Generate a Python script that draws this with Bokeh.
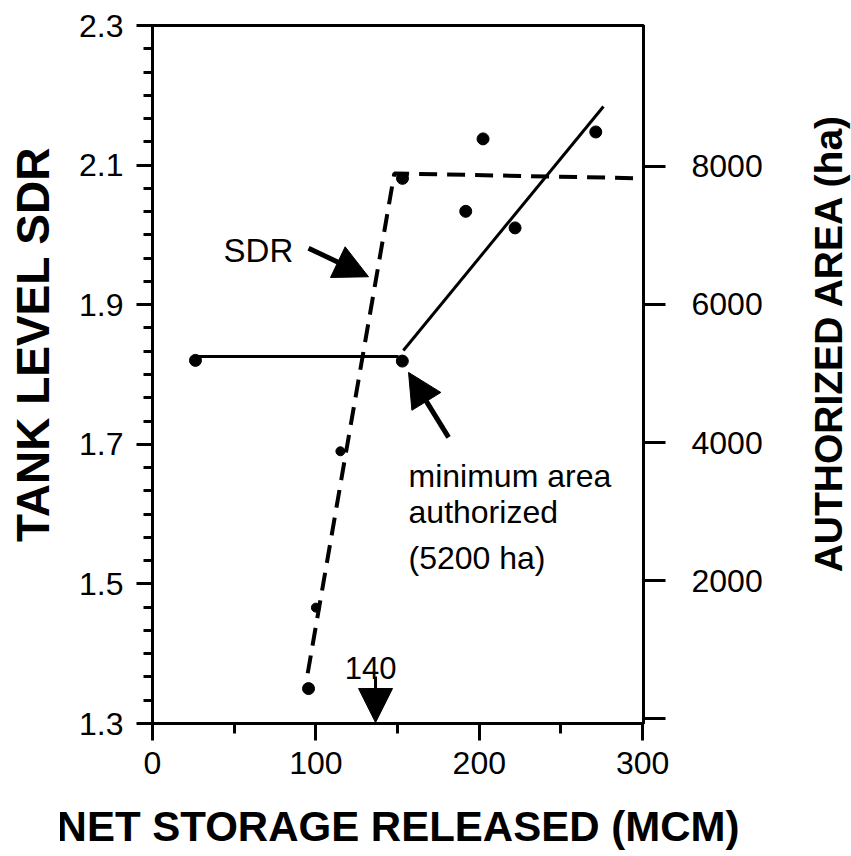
from bokeh.plotting import figure
from bokeh.layouts import row
from bokeh.models import (Range1d, LinearAxis, FixedTicker, PrintfTickFormatter,
                          Label, Arrow, NormalHead)
from bokeh.core.properties import value
from bokeh.embed import file_html
from bokeh.resources import INLINE
import math

# ---- data ----
sdr_pts_x = [95.5, 100, 115, 153]
sdr_pts_y = [1.35, 1.466, 1.69, 2.081]
sdr_line_x = [95, 148, 300.5]
sdr_line_y = [1.372, 2.088, 2.081]

area_pts_x = [26.3, 152.9, 191.7, 202.3, 221.9, 271.3]
area_pts_y = [5190, 5180, 7350, 8400, 7110, 8500]
area_flat_x = [26.3, 150.6]
area_flat_y = [5246, 5246]
area_slope_x = [153.5, 276]
area_slope_y = [5333, 8870]

sdr_ticks = [1.3, 1.5, 1.7, 1.9, 2.1, 2.3]
area_ticks = [0, 2000, 4000, 6000, 8000]
x_ticks = [0, 100, 200, 300]

FONT = "Liberation Sans"


def side_panel(width, title, x, y, size):
    f = figure(width=width, height=856, x_range=Range1d(0, width), y_range=Range1d(0, 856),
               output_backend="svg", toolbar_location=None, min_border=0,
               x_axis_location=None, y_axis_location=None)
    f.grid.visible = False
    f.outline_line_color = None
    f.background_fill_color = "white"
    f.border_fill_color = "white"
    f.text(x=[x], y=[y], text=[title], angle=math.pi / 2,
           text_font=value(FONT), text_font_size=size, text_font_style="bold",
           text_align="center", text_baseline="alphabetic", text_color="black")
    return f


p = figure(width=740, height=856, x_range=Range1d(0, 300.5), y_range=Range1d(1.3, 2.3),
           output_backend="svg", toolbar_location=None,
           min_border_left=92, min_border_right=157, min_border_top=25, min_border_bottom=133)
p.extra_y_ranges = {"area": Range1d(-72, 10043)}
p.grid.visible = False
p.outline_line_color = "black"
p.outline_line_width = 3
p.background_fill_color = "white"
p.border_fill_color = "white"

xa = p.xaxis[0]
xa.ticker = FixedTicker(ticks=x_ticks, minor_ticks=[50, 150, 250])
xa.axis_line_width = 3
xa.major_tick_line_width = 3
xa.minor_tick_line_width = 3
xa.major_tick_out = 17
xa.major_tick_in = 0
xa.minor_tick_out = 10
xa.minor_tick_in = 0
xa.major_label_standoff = 11
xa.major_label_text_font = FONT
xa.major_label_text_font_size = "32px"
xa.major_label_text_color = "black"
xa.axis_label = "NET STORAGE RELEASED (MCM)"
xa.axis_label_text_font = FONT
xa.axis_label_text_font_size = "42px"
xa.axis_label_text_font_style = "bold"
xa.axis_label_text_color = "black"
xa.axis_label_standoff = 26

ya = p.yaxis[0]
ya.ticker = FixedTicker(ticks=sdr_ticks,
                        minor_ticks=[round(1.3 + i / 30, 4) for i in range(31)])
ya.formatter = PrintfTickFormatter(format="%.1f")
ya.axis_line_width = 3
ya.major_tick_line_width = 3
ya.minor_tick_line_width = 3
ya.major_tick_out = 16
ya.major_tick_in = 0
ya.minor_tick_out = 9
ya.minor_tick_in = 0
ya.major_label_standoff = 13
ya.major_label_text_font = FONT
ya.major_label_text_font_size = "32px"
ya.major_label_text_color = "black"

ra = LinearAxis(y_range_name="area", ticker=FixedTicker(ticks=area_ticks, minor_ticks=[]),
                major_label_overrides={0: ""})
ra.axis_line_width = 3
ra.major_tick_line_width = 3
ra.major_tick_out = 22
ra.major_tick_in = 0
ra.minor_tick_line_color = None
ra.major_label_standoff = 26
ra.major_label_text_font = FONT
ra.major_label_text_font_size = "32px"
ra.major_label_text_color = "black"
p.add_layout(ra, "right")

# ---- lines ----
p.line(sdr_line_x, sdr_line_y, line_color="black", line_width=4, line_dash="18 10")
p.line(area_flat_x, area_flat_y, y_range_name="area", line_color="black", line_width=3)
p.line(area_slope_x, area_slope_y, y_range_name="area", line_color="black", line_width=3)

# ---- points ----
p.scatter(sdr_pts_x, sdr_pts_y, size=[12, 9, 9, 12], color="black")
p.scatter(area_pts_x, area_pts_y, y_range_name="area", size=12, color="black")

# ---- annotations ----
p.add_layout(Label(x=43.5, y=1.978, text="SDR", text_font=FONT, text_font_size="33px",
                   text_align="left", text_baseline="middle", text_color="black"))
p.add_layout(Arrow(x_start=95.5, y_start=1.981, x_end=132.2, y_end=1.940, line_width=5,
                   end=NormalHead(size=34, fill_color="black", line_color="black")))

p.add_layout(Arrow(x_start=181.2, y_start=1.710, x_end=156.7, y_end=1.803, line_width=5,
                   end=NormalHead(size=34, fill_color="black", line_color="black")))
for txt, yb in [("minimum area", 1.6553), ("authorized", 1.6023), ("(5200 ha)", 1.5378)]:
    p.add_layout(Label(x=156.7, y=yb, text=txt, text_font=FONT, text_font_size="32px",
                       text_align="left", text_baseline="alphabetic", text_color="black"))

p.add_layout(Label(x=133.5, y=1.3802, text="140", text_font=FONT, text_font_size="31px",
                   text_align="center", text_baseline="alphabetic", text_color="black"))
p.add_layout(Arrow(x_start=136.5, y_start=1.3673, x_end=136.5, y_end=1.3014, line_width=3,
                   end=NormalHead(size=34, fill_color="black", line_color="black")))

# ---- axis titles that read bottom to top, in narrow side panels ----
left_title = side_panel(60, "TANK LEVEL SDR", 32, 465, "46px")
right_title = side_panel(51, "AUTHORIZED AREA (ha)", 28, 467, "39px")

layout = row(left_title, p, right_title, spacing=0)
open("out.html", "w").write(file_html(layout, INLINE))
